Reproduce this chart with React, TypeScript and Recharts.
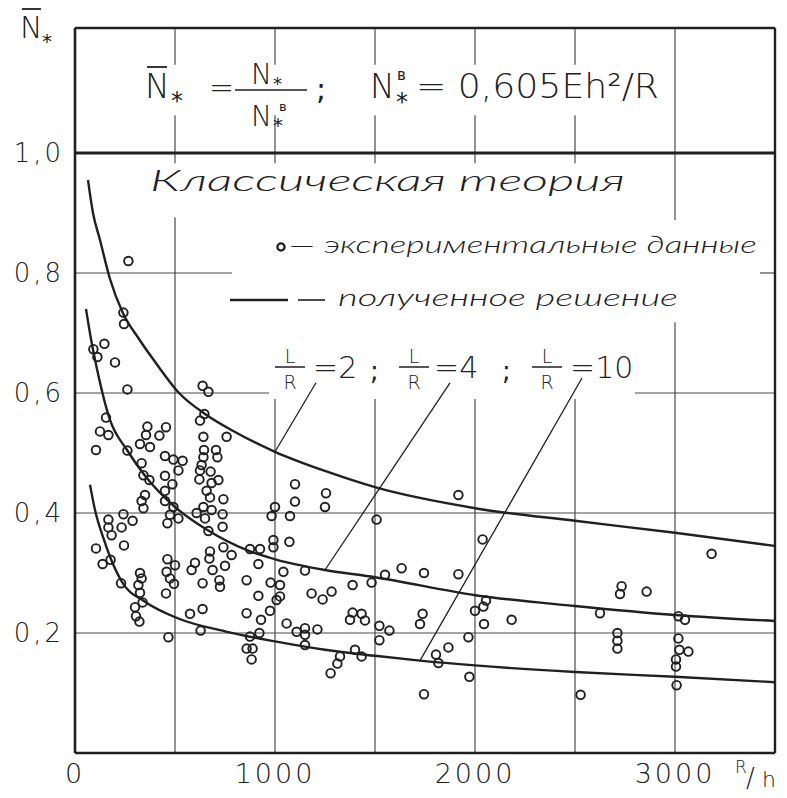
import React from "react"
import { ComposedChart, Line, Scatter, XAxis, YAxis, ReferenceLine } from "recharts"

const INK = "#202020"
const GRID = "#4a4a4a"
const FONT = "'DejaVu Sans', 'Liberation Sans', sans-serif"
const HAND = "Lato, 'DejaVu Sans', sans-serif"

const X_TICKS = [0, 1000, 2000, 3000]
const Y_TICKS = [0.2, 0.4, 0.6, 0.8, 1.0]
const X_MAX = 3500
const Y_MAX = 1.2083

// ─── Solution curves (R/h, N̄*) ────────────────────────────────────────────────
const LR2_RH = [65, 90, 125, 175, 240, 320, 400, 520, 650, 800, 1000, 1250, 1500, 2000, 2500, 3000, 3500]
const LR2_N = [0.955, 0.9, 0.855, 0.79, 0.733, 0.69, 0.652, 0.6, 0.565, 0.535, 0.502, 0.47, 0.443, 0.408, 0.387, 0.367, 0.345]

const LR4_RH = [55, 80, 110, 175, 260, 350, 500, 660, 860, 1010, 1250, 1500, 2000, 2500, 3000, 3500]
const LR4_N = [0.74, 0.69, 0.64, 0.555, 0.505, 0.462, 0.41, 0.372, 0.338, 0.322, 0.305, 0.293, 0.263, 0.245, 0.23, 0.22]

const LR10_RH = [75, 100, 140, 175, 235, 350, 510, 760, 1000, 1250, 1500, 1725, 2000, 2500, 3000, 3500]
const LR10_N = [0.447, 0.405, 0.36, 0.327, 0.285, 0.252, 0.225, 0.202, 0.186, 0.172, 0.162, 0.154, 0.146, 0.135, 0.127, 0.118]

// ─── Experimental data ────────────────────────────────────────────────────────
const EXP_1: [number, number][] = [
  [267, 0.82], [242, 0.734], [245, 0.715], [147, 0.682], [92, 0.673], [112, 0.66], [200, 0.651],
  [262, 0.606], [638, 0.612], [667, 0.602], [647, 0.565], [625, 0.554], [155, 0.559], [125, 0.536],
  [167, 0.53], [362, 0.544], [355, 0.53], [455, 0.543], [422, 0.529], [642, 0.527], [758, 0.527],
  [105, 0.505], [325, 0.515], [375, 0.51], [262, 0.504], [645, 0.505], [705, 0.505], [642, 0.493],
  [712, 0.493], [450, 0.495], [492, 0.489], [538, 0.487], [333, 0.483], [633, 0.48], [517, 0.471],
  [342, 0.463], [372, 0.455], [625, 0.471], [678, 0.469], [450, 0.462], [622, 0.456], [683, 0.45],
  [717, 0.455], [487, 0.448], [450, 0.437], [658, 0.437], [350, 0.43], [333, 0.42], [342, 0.408],
  [675, 0.426], [742, 0.423], [450, 0.42], [1100, 0.448], [1100, 0.419], [492, 0.41], [642, 0.41],
  [683, 0.405], [608, 0.4], [650, 0.391], [738, 0.398], [1000, 0.41], [983, 0.395], [1075, 0.395],
  [167, 0.389], [242, 0.398], [288, 0.387], [167, 0.376], [233, 0.376], [183, 0.363], [475, 0.397],
  [517, 0.391], [462, 0.383], [667, 0.37], [738, 0.377], [105, 0.341],
]
const EXP_2: [number, number][] = [
  [245, 0.346], [138, 0.315], [178, 0.322], [742, 0.343], [783, 0.33], [875, 0.34], [925, 0.34],
  [992, 0.355], [992, 0.343], [1072, 0.352], [462, 0.323], [500, 0.313], [458, 0.302], [475, 0.291],
  [495, 0.282], [675, 0.336], [672, 0.324], [600, 0.317], [583, 0.305], [688, 0.305], [750, 0.312],
  [917, 0.315], [1042, 0.302], [1150, 0.304], [325, 0.3], [333, 0.291], [317, 0.28], [325, 0.267],
  [338, 0.251], [230, 0.283], [638, 0.283], [722, 0.288], [725, 0.277], [858, 0.288], [978, 0.284],
  [1025, 0.28], [455, 0.266], [917, 0.262], [1025, 0.261], [1008, 0.255], [1183, 0.266], [300, 0.243],
  [305, 0.228], [322, 0.219], [575, 0.232], [638, 0.24], [858, 0.233], [975, 0.237], [930, 0.222],
  [628, 0.204], [467, 0.193], [922, 0.2], [875, 0.194], [858, 0.174], [888, 0.174], [883, 0.156],
  [1058, 0.216], [1108, 0.202], [1150, 0.208], [1150, 0.197], [1150, 0.18], [1212, 0.206], [1238, 0.256],
]
const EXP_3: [number, number][] = [
  [1255, 0.433], [1250, 0.41], [1508, 0.389], [1917, 0.43], [2038, 0.356], [1283, 0.269], [1388, 0.28],
  [1483, 0.284], [1550, 0.297], [1633, 0.308], [1745, 0.3], [1917, 0.298], [1388, 0.234], [1433, 0.232],
  [1375, 0.222], [1450, 0.221], [1522, 0.212], [1572, 0.204], [1522, 0.188], [1400, 0.172], [1433, 0.161],
  [1325, 0.161], [1312, 0.149], [1278, 0.133], [1738, 0.232], [1725, 0.215], [1745, 0.098], [1805, 0.164],
  [1817, 0.15], [1867, 0.176], [1967, 0.193], [1972, 0.127], [2000, 0.237], [2042, 0.244], [2055, 0.254],
  [2045, 0.215], [2183, 0.222],
]
const EXP_4: [number, number][] = [
  [3183, 0.332], [2733, 0.278], [2725, 0.265], [2858, 0.269], [2625, 0.233], [3017, 0.228], [3050, 0.222],
  [2712, 0.2], [2712, 0.187], [2712, 0.174], [3017, 0.191], [3022, 0.172], [3067, 0.169], [3005, 0.156],
  [3005, 0.144], [3008, 0.113], [2528, 0.097],
]

// leader lines from the L/R labels down to each curve
const LEADER_TOPS: [number, number][] = [[1205, 0.617], [1875, 0.617], [2535, 0.625]]
const LEADER_FOOT_RH = [1000, 1250, 1725]

const toSeries = (xs: number[], ys: number[]) => xs.map((x, i) => ({ x, y: ys[i] }))
const curves = [toSeries(LR2_RH, LR2_N), toSeries(LR4_RH, LR4_N), toSeries(LR10_RH, LR10_N)]
const expPoints = [...EXP_1, ...EXP_2, ...EXP_3, ...EXP_4].map(([x, y]) => ({ x, y }))

// grid pieces – the drawing leaves gaps where the lettering sits
const V_GRID: { x: number; spans: [number, number][] }[] = [
  { x: 500, spans: [[1.147, Y_MAX], [0.983, 1.063], [0, 0.893]] },
  { x: 1000, spans: [[1.147, Y_MAX], [0.983, 1.063], [0, 0.59]] },
  { x: 1500, spans: [[1.147, Y_MAX], [0.983, 1.063], [0, 0.59]] },
  { x: 2000, spans: [[1.147, Y_MAX], [0.983, 1.063], [0, 0.59]] },
  { x: 2500, spans: [[1.147, Y_MAX], [0.983, 1.063], [0, 0.59]] },
  { x: 3000, spans: [[0.888, Y_MAX], [0, 0.718]] },
]
const H_GRID: { y: number; spans: [number, number][] }[] = [
  { y: 0.8, spans: [[0, 785], [3425, X_MAX]] },
  { y: 0.6, spans: [[0, 970], [2800, X_MAX]] },
  { y: 0.4, spans: [[0, X_MAX]] },
  { y: 0.2, spans: [[0, X_MAX]] },
]

const Ring = (p: any) => (
  <circle cx={p.cx} cy={p.cy} r={4.3} fill="none" stroke={INK} strokeWidth={1.9} />
)

const txt = { fill: INK, fontFamily: FONT, fontWeight: 200 } as const
const hand = { fill: INK, fontFamily: HAND, fontWeight: 300, fontStyle: "italic" } as const

function Overlay() {
  // asterisk subscript, (x, y) is the glyph's centre
  const star = (x: number, y: number, s = 22) => (
    <text x={x} y={y + s * 0.59} fontSize={s} fill={INK} fontFamily={FONT}>*</text>
  )
  return (
    <svg width={787} height={798} style={{ position: "absolute", left: 0, top: 0, pointerEvents: "none" }}>
      {/* axis name */}
      <line x1={22} x2={41} y1={9} y2={9} stroke={INK} strokeWidth={1.8} />
      <text x={20} y={38} fontSize={30} {...txt}>N</text>
      {star(42, 36, 20)}

      {/* header formula */}
      <line x1={147} x2={167} y1={67} y2={67} stroke={INK} strokeWidth={1.8} />
      <text x={145} y={98} fontSize={33} {...txt}>N</text>
      {star(171, 95, 24)}
      <text x={209} y={98} fontSize={30} {...txt}>=</text>
      <text x={251} y={84} fontSize={28} {...txt}>N</text>
      {star(273, 79, 18)}
      <line x1={235} x2={307} y1={90} y2={90} stroke={INK} strokeWidth={1.5} />
      <text x={251} y={126} fontSize={28} {...txt}>N</text>
      <text x={279} y={111} fontSize={13} fill={INK} fontFamily={FONT}>в</text>
      {star(273, 120, 20)}
      <text x={316} y={99} fontSize={30} fill={INK} fontFamily={FONT}>;</text>
      <text x={370} y={98} fontSize={33} {...txt}>N</text>
      <text x={397} y={80} fontSize={15} fill={INK} fontFamily={FONT}>в</text>
      {star(396, 96, 24)}
      <text x={416} y={98} fontSize={33} textLength={243} lengthAdjust="spacingAndGlyphs" {...txt}>
        = 0,605Eh²/R
      </text>

      {/* legend */}
      <text x={150} y={191} fontSize={30} textLength={475} lengthAdjust="spacingAndGlyphs" {...hand}>
        Классическая теория
      </text>
      <circle cx={281} cy={247} r={3.6} fill="none" stroke={INK} strokeWidth={2.3} />
      <text x={289} y={253} fontSize={24} textLength={468} lengthAdjust="spacingAndGlyphs" {...hand}>
        — экспериментальные данные
      </text>
      <line x1={230} x2={288} y1={300} y2={300} stroke={INK} strokeWidth={2.6} />
      <line x1={298} x2={325} y1={300} y2={300} stroke={INK} strokeWidth={1.6} />
      <text x={338} y={306} fontSize={24} textLength={340} lengthAdjust="spacingAndGlyphs" {...hand}>
        полученное решение
      </text>

      {/* L/R labels */}
      {[{ c: 290, v: "=2", vx: 313 }, { c: 414, v: "=4", vx: 434 }, { c: 547, v: "=10", vx: 570 }].map((f, i) => (
        <g key={i}>
          <text x={f.c} y={363} fontSize={19} textAnchor="middle" {...txt}>L</text>
          <line x1={f.c - 15} x2={f.c + 15} y1={367} y2={367} stroke={INK} strokeWidth={1.5} />
          <text x={f.c} y={389} fontSize={19} textAnchor="middle" {...txt}>R</text>
          <text x={f.vx} y={378} fontSize={30} {...txt}>{f.v}</text>
        </g>
      ))}
      <text x={370} y={380} fontSize={26} fill={INK} fontFamily={FONT}>;</text>
      <text x={502} y={380} fontSize={26} fill={INK} fontFamily={FONT}>;</text>

      {/* R/h */}
      <text x={735} y={773} fontSize={17} {...txt}>R</text>
      <text x={746} y={787} fontSize={26} {...txt}>/</text>
      <text x={762} y={787} fontSize={22} {...txt}>h</text>
    </svg>
  )
}

const curveAt = (c: { x: number; y: number }[], x: number) => c.find((p) => p.x === x)!.y

export default function App() {
  return (
    <div style={{ position: "absolute", left: 0, top: 0, width: 787, height: 798, background: "#fff" }}>
      <ComposedChart width={787} height={798} margin={{ top: 28, right: 12, bottom: 0, left: 0 }}>
        <XAxis
          type="number"
          dataKey="x"
          domain={[0, X_MAX]}
          ticks={X_TICKS}
          allowDataOverflow
          height={45}
          tickSize={0}
          tickMargin={11}
          axisLine={{ stroke: INK, strokeWidth: 2.6 }}
          tickLine={false}
          tick={{ fontSize: 27, fill: INK, fontFamily: FONT, fontWeight: 200, letterSpacing: 3 }}
        />
        <YAxis
          type="number"
          dataKey="y"
          domain={[0, Y_MAX]}
          ticks={Y_TICKS}
          allowDataOverflow
          width={75}
          tickSize={0}
          tickMargin={11}
          axisLine={{ stroke: INK, strokeWidth: 2.6 }}
          tickLine={false}
          tickFormatter={(v: number) => v.toFixed(1).replace(".", ",")}
          tick={{ fontSize: 26, fill: INK, fontFamily: FONT, fontWeight: 200, letterSpacing: 3 }}
        />

        {V_GRID.flatMap((g) =>
          g.spans.map(([a, b], i) => (
            <ReferenceLine key={`v${g.x}-${i}`} segment={[{ x: g.x, y: a }, { x: g.x, y: b }]} stroke={GRID} strokeWidth={1.2} />
          ))
        )}
        {H_GRID.flatMap((g) =>
          g.spans.map(([a, b], i) => (
            <ReferenceLine key={`h${g.y}-${i}`} segment={[{ x: a, y: g.y }, { x: b, y: g.y }]} stroke={GRID} strokeWidth={1.2} />
          ))
        )}
        <ReferenceLine y={1.0} stroke={INK} strokeWidth={3} />
        <ReferenceLine y={Y_MAX} stroke={INK} strokeWidth={2.4} />
        <ReferenceLine x={X_MAX} stroke={INK} strokeWidth={2.4} />

        {LEADER_TOPS.map(([x, y], i) => (
          <ReferenceLine
            key={`ld${i}`}
            segment={[{ x, y }, { x: LEADER_FOOT_RH[i], y: curveAt(curves[i], LEADER_FOOT_RH[i]) }]}
            stroke={INK}
            strokeWidth={1.3}
          />
        ))}

        {curves.map((c, i) => (
          <Line
            key={`c${i}`}
            data={c}
            dataKey="y"
            type="monotone"
            stroke={INK}
            strokeWidth={2.4}
            dot={false}
            activeDot={false}
            isAnimationActive={false}
          />
        ))}
        <Scatter data={expPoints} dataKey="y" shape={Ring} isAnimationActive={false} />
      </ComposedChart>
      <Overlay />
    </div>
  )
}
